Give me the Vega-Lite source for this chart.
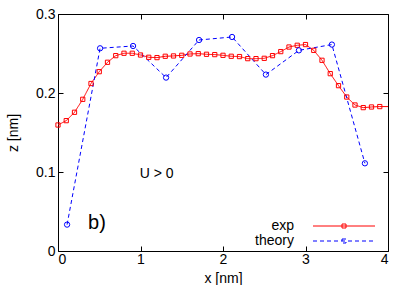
{
  "$schema": "https://vega.github.io/schema/vega-lite/v6.json",
  "width": 330,
  "height": 237,
  "autosize": {"type": "none"},
  "padding": {"left": 58, "top": 14, "right": 19, "bottom": 34},
  "background": "white",
  "config": {
    "font": "Liberation Sans",
    "view": {"stroke": "black", "strokeWidth": 1},
    "axis": {
      "grid": false,
      "domain": false,
      "tickColor": "black",
      "tickSize": -5,
      "tickWidth": 1,
      "labelColor": "black",
      "labelFontSize": 14,
      "titleColor": "black",
      "titleFontSize": 14,
      "titleFontWeight": "normal"
    },
    "legend": {
      "orient": "none",
      "legendX": 279,
      "legendY": 205,
      "padding": 0,
      "symbolType": "M-24,0M-7.75,0H7.75M-0.5,-0.5H0.5V0.5H-0.5Z",
      "symbolSize": 64,
      "symbolStrokeWidth": 1,
      "labelAlign": "right",
      "labelOffset": -57,
      "labelFontSize": 14,
      "labelColor": "black",
      "rowPadding": 1
    }
  },
  "data": {
    "values": [
      {"x": 0.0, "z": 0.1595, "series": "exp"},
      {"x": 0.1, "z": 0.165, "series": "exp"},
      {"x": 0.2, "z": 0.1756, "series": "exp"},
      {"x": 0.3, "z": 0.192, "series": "exp"},
      {"x": 0.4, "z": 0.212, "series": "exp"},
      {"x": 0.5, "z": 0.227, "series": "exp"},
      {"x": 0.6, "z": 0.2389, "series": "exp"},
      {"x": 0.7, "z": 0.2473, "series": "exp"},
      {"x": 0.8, "z": 0.2503, "series": "exp"},
      {"x": 0.9, "z": 0.2503, "series": "exp"},
      {"x": 1.0, "z": 0.2481, "series": "exp"},
      {"x": 1.1, "z": 0.2452, "series": "exp"},
      {"x": 1.2, "z": 0.2448, "series": "exp"},
      {"x": 1.3, "z": 0.2465, "series": "exp"},
      {"x": 1.4, "z": 0.2469, "series": "exp"},
      {"x": 1.5, "z": 0.2477, "series": "exp"},
      {"x": 1.6, "z": 0.2494, "series": "exp"},
      {"x": 1.7, "z": 0.2498, "series": "exp"},
      {"x": 1.8, "z": 0.249, "series": "exp"},
      {"x": 1.9, "z": 0.2486, "series": "exp"},
      {"x": 2.0, "z": 0.2477, "series": "exp"},
      {"x": 2.1, "z": 0.2465, "series": "exp"},
      {"x": 2.2, "z": 0.2461, "series": "exp"},
      {"x": 2.3, "z": 0.2435, "series": "exp"},
      {"x": 2.4, "z": 0.2435, "series": "exp"},
      {"x": 2.5, "z": 0.2439, "series": "exp"},
      {"x": 2.6, "z": 0.2473, "series": "exp"},
      {"x": 2.7, "z": 0.2524, "series": "exp"},
      {"x": 2.8, "z": 0.2582, "series": "exp"},
      {"x": 2.9, "z": 0.2604, "series": "exp"},
      {"x": 3.0, "z": 0.2613, "series": "exp"},
      {"x": 3.1, "z": 0.254, "series": "exp"},
      {"x": 3.2, "z": 0.2414, "series": "exp"},
      {"x": 3.3, "z": 0.2245, "series": "exp"},
      {"x": 3.4, "z": 0.2093, "series": "exp"},
      {"x": 3.5, "z": 0.1949, "series": "exp"},
      {"x": 3.6, "z": 0.1848, "series": "exp"},
      {"x": 3.7, "z": 0.1815, "series": "exp"},
      {"x": 3.8, "z": 0.1823, "series": "exp"},
      {"x": 3.9, "z": 0.1828, "series": "exp"},
      {"x": 4.0, "z": 0.1828, "series": "exp"},
      {"x": 0.11, "z": 0.0334, "series": "theory"},
      {"x": 0.51, "z": 0.2566, "series": "theory"},
      {"x": 0.91, "z": 0.2595, "series": "theory"},
      {"x": 1.31, "z": 0.2195, "series": "theory"},
      {"x": 1.71, "z": 0.2671, "series": "theory"},
      {"x": 2.11, "z": 0.2709, "series": "theory"},
      {"x": 2.52, "z": 0.2233, "series": "theory"},
      {"x": 2.92, "z": 0.254, "series": "theory"},
      {"x": 3.32, "z": 0.2613, "series": "theory"},
      {"x": 3.72, "z": 0.111, "series": "theory"}
    ]
  },
  "layer": [
    {
      "mark": {"type": "line", "strokeWidth": 1},
      "encoding": {
        "x": {
          "field": "x", "type": "quantitative",
          "scale": {"domain": [0, 4], "nice": false},
          "axis": {"orient": "bottom", "title": "x [nm]", "values": [0, 1, 2, 3, 4], "format": "d", "labelPadding": 6, "titlePadding": 5}
        },
        "y": {
          "field": "z", "type": "quantitative",
          "scale": {"domain": [0, 0.3], "nice": false, "zero": false},
          "axis": {"orient": "left", "title": "z [nm]", "values": [0, 0.1, 0.2, 0.3], "format": "~g", "labelPadding": 8, "titlePadding": 15}
        },
        "color": {
          "field": "series", "type": "nominal", "title": null,
          "scale": {"domain": ["exp", "theory"], "range": ["#ff0000", "#0000ff"]}
        },
        "strokeDash": {
          "field": "series", "type": "nominal", "title": null,
          "scale": {"domain": ["exp", "theory"], "range": [[1, 0], [4, 3]]}
        }
      }
    },
    {
      "transform": [{"filter": "datum.series === 'exp' && datum.x < 4"}],
      "mark": {"type": "point", "shape": "square", "filled": false, "strokeWidth": 1, "opacity": 1, "color": "#ff0000", "size": 18},
      "encoding": {
        "x": {
          "field": "x", "type": "quantitative",
          "axis": {"orient": "top", "title": null, "labels": false, "values": [0, 1, 2, 3, 4]}
        },
        "y": {
          "field": "z", "type": "quantitative",
          "axis": {"orient": "right", "title": null, "labels": false, "values": [0, 0.1, 0.2, 0.3]}
        }
      }
    },
    {
      "transform": [{"filter": "datum.series === 'theory'"}],
      "mark": {"type": "point", "shape": "circle", "filled": false, "strokeWidth": 1, "opacity": 1, "color": "#0000ff", "size": 28},
      "encoding": {
        "x": {"field": "x", "type": "quantitative", "axis": null},
        "y": {"field": "z", "type": "quantitative", "axis": null}
      }
    },
    {
      "data": {"values": [{}]},
      "mark": {"type": "text", "text": "U > 0", "fontSize": 14, "align": "left", "baseline": "middle", "color": "black"},
      "encoding": {
        "x": {"datum": 0.99, "type": "quantitative", "axis": null},
        "y": {"datum": 0.098, "type": "quantitative", "axis": null}
      }
    },
    {
      "data": {"values": [{}]},
      "mark": {"type": "text", "text": "b)", "fontSize": 20, "align": "left", "baseline": "middle", "color": "black"},
      "encoding": {
        "x": {"datum": 0.365, "type": "quantitative", "axis": null},
        "y": {"datum": 0.036, "type": "quantitative", "axis": null}
      }
    }
  ]
}
